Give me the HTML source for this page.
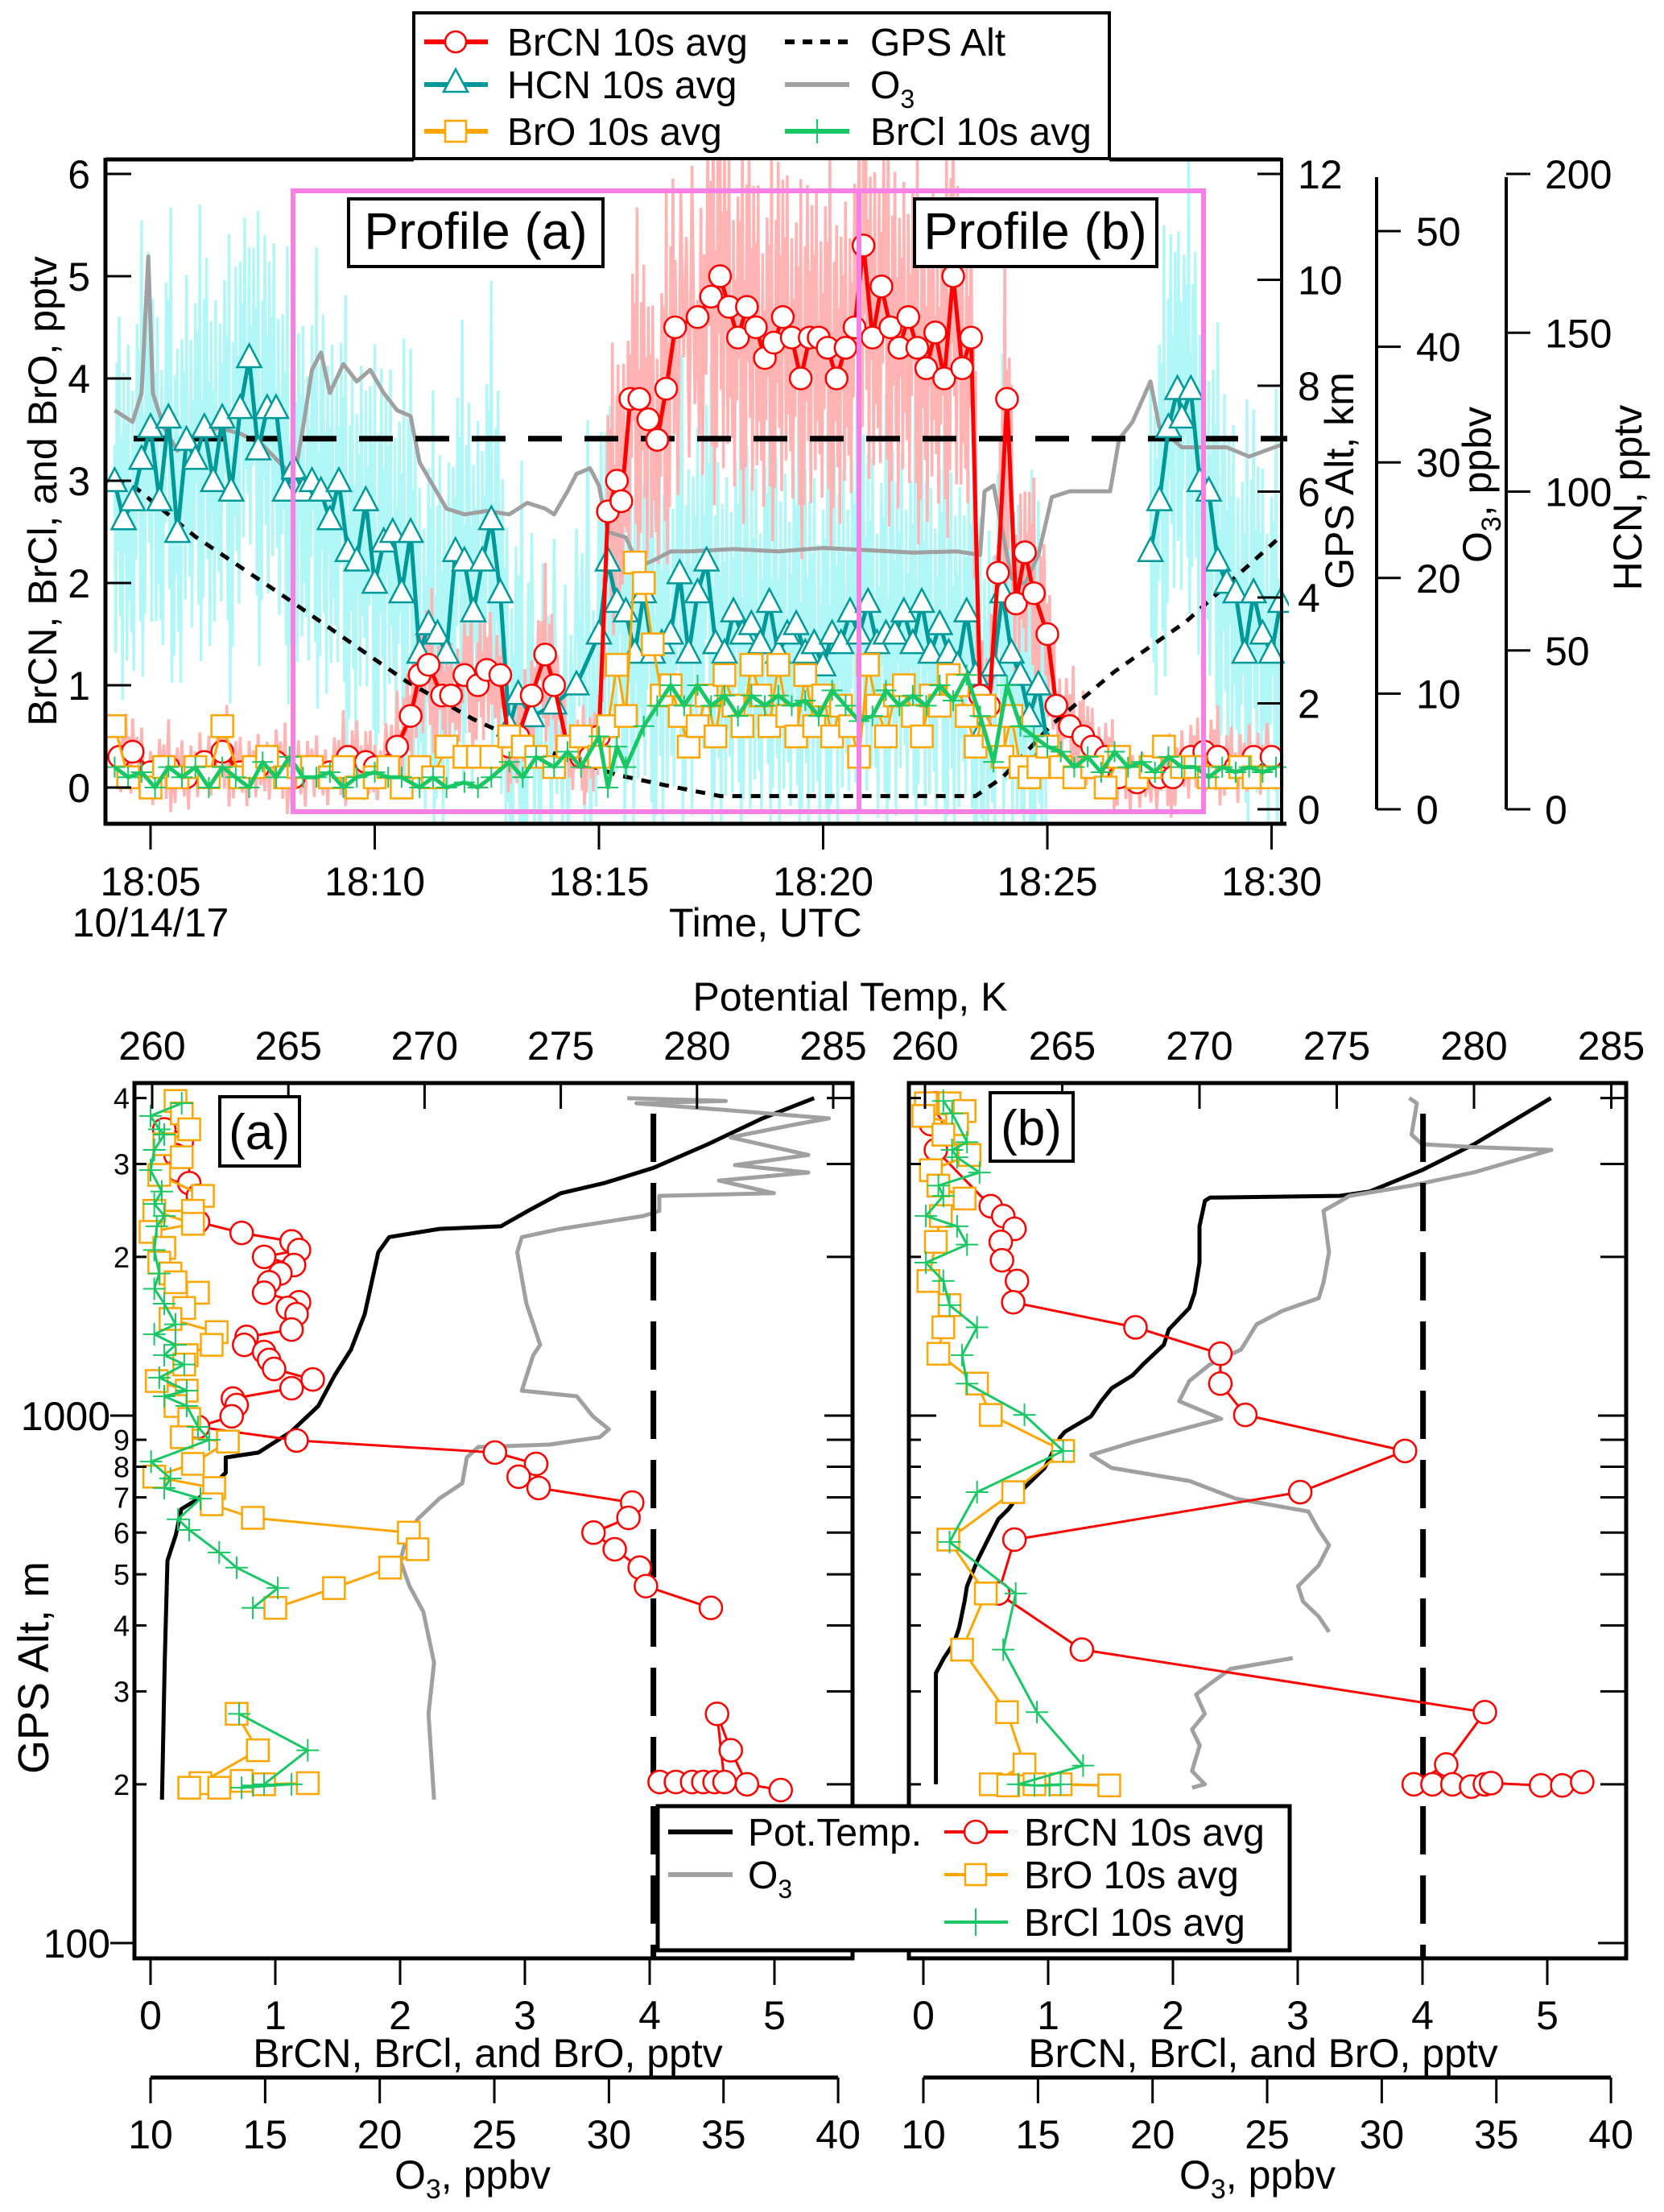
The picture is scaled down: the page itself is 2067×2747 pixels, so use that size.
<!DOCTYPE html>
<html><head><meta charset="utf-8"><style>
html,body{margin:0;padding:0;background:#fff;}
svg{display:block;font-family:"Liberation Sans",Arial,sans-serif;}
</style></head><body>
<svg id="fig" xmlns="http://www.w3.org/2000/svg" width="2067" height="2747" viewBox="0 0 2067 2747">
<defs>
<clipPath id="clipTop"><rect x="131" y="198" width="1470" height="825"/></clipPath>
<clipPath id="clipA"><rect x="167" y="1345" width="892" height="1087"/></clipPath>
<clipPath id="clipB"><rect x="1129" y="1345" width="891" height="1087"/></clipPath>
</defs>
<rect width="2067" height="2747" fill="#fff"/>

<g id="topData" clip-path="url(#clipTop)"></g>
<g id="topAxes" stroke="#000" fill="none">
  <line x1="131" y1="198" x2="514" y2="198" stroke-width="5"/>
  <line x1="1378" y1="198" x2="1592" y2="198" stroke-width="5"/>
  <line x1="131" y1="196" x2="131" y2="1025" stroke-width="5"/>
  <line x1="129" y1="1023" x2="1598" y2="1023" stroke-width="5"/>
  <line x1="1592" y1="196" x2="1592" y2="1025" stroke-width="4"/>
  <line x1="1710" y1="220" x2="1710" y2="1005" stroke-width="4"/>
  <line x1="1871" y1="220" x2="1871" y2="1005" stroke-width="4"/>
</g>
<g id="topText" font-size="50" fill="#000">
  <text x="70" y="610" transform="rotate(-90 70 610)" text-anchor="middle">BrCN, BrCl, and BrO, pptv</text>
  <text x="1681" y="597" transform="rotate(-90 1681 597)" text-anchor="middle">GPS Alt, km</text>
  <text x="1852" y="602" transform="rotate(-90 1852 602)" text-anchor="middle">O<tspan font-size="34" dy="12">3</tspan><tspan dy="-12">, ppbv</tspan></text>
  <text x="2039" y="618" transform="rotate(-90 2039 618)" text-anchor="middle">HCN, pptv</text>
  <text x="187" y="1163" text-anchor="middle">10/14/17</text>
  <text x="831" y="1163">Time, UTC</text>
</g>
<g fill="none" stroke="#f77fe6" stroke-width="6">
  <rect x="364" y="237" width="1131" height="771"/>
  <line x1="1067" y1="237" x2="1067" y2="1008"/>
</g>
<g>
  <rect x="433" y="247" width="316" height="84" fill="#fff" stroke="#000" stroke-width="4"/>
  <text x="591" y="309" font-size="64" text-anchor="middle">Profile (a)</text>
</g>
<g>
  <rect x="1136" y="247" width="301" height="84" fill="#fff" stroke="#000" stroke-width="4"/>
  <text x="1286" y="309" font-size="64" text-anchor="middle">Profile (b)</text>
</g>

<g font-size="48">
  <rect x="514" y="16" width="864" height="181" fill="#fff" stroke="#000" stroke-width="4"/>
  <g>
    <line x1="527" y1="52" x2="606" y2="52" stroke="#ff0000" stroke-width="6"/>
    <circle cx="566" cy="52" r="13" fill="#fff" stroke="#ff0000" stroke-width="2.5"/>
    <text x="630" y="69">BrCN 10s avg</text></g>
  <g>
    <line x1="527" y1="105" x2="606" y2="105" stroke="#009999" stroke-width="6"/>
    <path d="M566 86 L581 114 L551 114 Z" fill="#fff" stroke="#009999" stroke-width="2.5"/>
    <text x="630" y="122">HCN 10s avg</text></g>
  <g>
    <line x1="527" y1="163" x2="606" y2="163" stroke="#ffa500" stroke-width="6"/>
    <rect x="553" y="150" width="26" height="26" fill="#fff" stroke="#ffa500" stroke-width="2.5"/>
    <text x="630" y="180">BrO 10s avg</text></g>
  <g>
    <line x1="975" y1="52" x2="1055" y2="52" stroke="#000" stroke-width="6" stroke-dasharray="12 10"/>
    <text x="1081" y="69">GPS Alt</text></g>
  <g>
    <line x1="975" y1="105" x2="1055" y2="105" stroke="#a0a0a0" stroke-width="6"/>
    <text x="1081" y="122">O<tspan font-size="32" dy="12">3</tspan></text></g>
  <g>
    <line x1="975" y1="163" x2="1055" y2="163" stroke="#19c865" stroke-width="6"/>
    <line x1="1015" y1="148" x2="1015" y2="178" stroke="#19c865" stroke-width="2"/>
    <text x="1081" y="180">BrCl 10s avg</text></g>
</g>

<text x="1056" y="1255" font-size="50" text-anchor="middle">Potential Temp, K</text>
<g id="panelA" clip-path="url(#clipA)"></g>
<g id="panelB" clip-path="url(#clipB)"></g>
<g id="botAxes"></g>
<text x="60" y="2071" transform="rotate(-90 60 2071)" font-size="54" text-anchor="middle">GPS Alt, m</text>
<g>
  <rect x="273" y="1362" width="99" height="86" fill="#fff" stroke="#000" stroke-width="4"/>
  <text x="322" y="1427" font-size="62" text-anchor="middle">(a)</text>
</g>
<g>
  <rect x="1230" y="1357" width="103" height="85" fill="#fff" stroke="#000" stroke-width="4"/>
  <text x="1281" y="1422" font-size="62" text-anchor="middle">(b)</text>
</g>
<g font-size="50" text-anchor="middle">
  <text x="606" y="2567">BrCN, BrCl, and BrO, pptv</text>
  <text x="1569" y="2567">BrCN, BrCl, and BrO, pptv</text>
  <text x="587" y="2718">O<tspan font-size="34" dy="12">3</tspan><tspan dy="-12">, ppbv</tspan></text>
  <text x="1562" y="2718">O<tspan font-size="34" dy="12">3</tspan><tspan dy="-12">, ppbv</tspan></text>
</g>
<g id="botLegend" font-size="48">
  <rect x="817" y="2243" width="785" height="179" fill="#fff" stroke="#000" stroke-width="5"/>
  <g>
    <line x1="830" y1="2275" x2="910" y2="2275" stroke="#000" stroke-width="6"/>
    <text x="929" y="2292">Pot.Temp.</text></g>
  <g>
    <line x1="830" y1="2328" x2="910" y2="2328" stroke="#a0a0a0" stroke-width="6"/>
    <text x="929" y="2345">O<tspan font-size="32" dy="12">3</tspan></text></g>
  <g>
    <line x1="1173" y1="2275" x2="1252" y2="2275" stroke="#ff0000" stroke-width="4"/>
    <circle cx="1212" cy="2275" r="14" fill="#fff" stroke="#ff0000" stroke-width="2.5"/>
    <text x="1272" y="2292">BrCN 10s avg</text></g>
  <g>
    <line x1="1173" y1="2328" x2="1252" y2="2328" stroke="#ffa500" stroke-width="4"/>
    <rect x="1199" y="2315" width="26" height="26" fill="#fff" stroke="#ffa500" stroke-width="2.5"/>
    <text x="1272" y="2345">BrO 10s avg</text></g>
  <g>
    <line x1="1173" y1="2387" x2="1252" y2="2387" stroke="#19c865" stroke-width="4"/>
    <line x1="1212" y1="2370" x2="1212" y2="2404" stroke="#19c865" stroke-width="2"/>
    <text x="1272" y="2404">BrCl 10s avg</text></g>
</g>
</svg>
<script>
// ===== TOP CHART DATA (time = minutes after 18:00 UTC) =====
const timeTickValues = [5,10,15,20,25,30];
const timeTickLabels = ["18:05","18:10","18:15","18:20","18:25","18:30"];
const leftTicks = [0,1,2,3,4,5,6];
const gpsTicks = [0,2,4,6,8,10,12];
const o3Ticks = [0,10,20,30,40,50];
const hcnTicks = [0,50,100,150,200];

const brcnT = [4.3,4.6,5,5.4,5.8,6.2,6.6,7.0,7.4,7.8,8.2,8.6,9.0,9.4,9.8,10,10.5,10.8,11,11.2,11.5,11.7,12,12.3,12.5,12.8,13,13.2,13.5,13.8,14,14.3,14.6,14.8,15,15.2,15.4,15.5,15.7,15.9,16.1,16.3,16.5,16.7,17.2,17.5,17.7,17.9,18.1,18.3,18.5,18.7,18.9,19.1,19.3,19.5,19.7,19.9,20.1,20.3,20.5,20.7,20.9,21.1,21.3,21.5,21.7,21.9,22.1,22.3,22.5,22.7,22.9,23.1,23.3,23.5,23.7,23.9,24.1,24.3,24.5,24.7,25,25.2,25.5,25.8,26,26.3,26.6,27,27.5,27.8,28.2,28.5,28.8,29.2,29.6,30];
const brcnV = [0.3,0.35,0.15,0.2,0.1,0.25,0.35,0.15,0.2,0.25,0.1,0.2,0.15,0.3,0.25,0.2,0.4,0.7,1.1,1.2,0.9,0.9,1.1,1.0,1.15,1.1,0.4,0.5,0.9,1.3,1.0,0.4,0.3,0.3,0.5,2.7,3.0,2.8,3.8,3.8,3.6,3.4,3.9,4.5,4.6,4.8,5.0,4.7,4.4,4.7,4.5,4.2,4.35,4.6,4.4,4.0,4.4,4.4,4.3,4.0,4.3,4.5,5.3,4.4,4.9,4.5,4.3,4.6,4.3,4.1,4.45,4.0,5.0,4.1,4.4,0.9,0.8,2.1,3.8,1.8,2.3,1.9,1.5,0.8,0.6,0.5,0.4,0.3,0.1,0.05,0.1,0.1,0.3,0.35,0.3,0.2,0.3,0.3];

const hcnT = [4.2,4.4,4.6,4.8,5.0,5.2,5.4,5.6,5.8,6.0,6.2,6.4,6.6,6.8,7.0,7.2,7.4,7.6,7.8,8.0,8.2,8.4,8.6,8.8,9.0,9.2,9.4,9.6,9.8,10,10.2,10.4,10.6,10.8,11,11.2,11.4,11.6,11.8,12,12.2,12.4,12.6,12.8,13.0,13.2,13.5,14,14.5,15,15.2,15.4,15.6,15.8,16,16.2,16.4,16.6,16.8,17,17.2,17.4,17.6,17.8,18,18.2,18.4,18.6,18.8,19,19.2,19.4,19.6,19.8,20,20.2,20.4,20.6,20.8,21,21.2,21.4,21.6,21.8,22,22.2,22.4,22.6,22.8,23,23.2,23.4,23.6,23.8,24,24.2,24.4,24.6,24.8,25,26,27.3,27.5,27.7,27.9,28.0,28.2,28.4,28.6,28.8,29,29.2,29.4,29.6,29.8,30,30.2];
const hcnV = [103,91,97,110,120,97,123,87,116,110,120,103,123,100,126,142,113,126,126,100,107,100,103,100,91,103,81,78,97,71,84,87,68,87,49,58,55,49,81,78,62,78,91,68,26,36,29,33,39,55,78,65,62,49,68,49,52,55,74,49,68,78,52,49,62,55,58,52,65,49,55,58,49,52,45,55,52,62,55,65,52,55,55,62,52,65,49,58,49,45,62,42,26,45,68,49,42,29,39,20,null,81,97,120,132,123,132,103,100,78,71,68,49,68,55,49,65];

const broT = [4.2,4.5,5,5.3,5.6,6,6.3,6.6,7,7.3,7.6,8,8.3,8.6,9,9.3,9.6,10,10.3,10.6,11,11.3,11.6,12,12.3,12.6,13,13.3,13.6,14,14.3,14.6,15,15.2,15.4,15.6,15.8,16.0,16.2,16.4,16.6,16.8,17,17.2,17.4,17.6,17.8,18,18.2,18.4,18.6,18.8,19,19.2,19.4,19.6,19.8,20,20.2,20.4,20.6,20.8,21,21.2,21.4,21.6,21.8,22,22.2,22.4,22.6,22.8,23,23.2,23.4,23.6,23.8,24.0,24.2,24.4,24.6,24.8,25,25.3,25.6,26,26.3,26.6,27,27.3,27.6,28,28.3,28.6,29,29.3,29.6,30];
const broV = [0.6,0.1,0.0,0.2,0.1,0.2,0.1,0.6,0.1,0.2,0.3,0.1,0.2,0.2,0.1,0.2,0.0,0.1,0.2,0.0,0.2,0.1,0.4,0.3,0.3,0.3,0.5,0.4,0.3,0.2,0.4,0.5,0.3,0.6,1.2,0.7,2.2,2.0,1.4,0.9,1.0,0.7,0.4,0.6,0.9,0.5,1.1,0.8,0.6,1.2,0.9,0.6,1.2,0.7,0.5,1.1,0.6,0.9,0.5,0.8,0.6,0.3,1.2,0.8,0.5,0.9,1.0,0.7,0.5,0.9,0.8,1.1,1.0,0.7,0.4,0.8,0.5,0.3,0.7,0.2,0.1,0.2,0.4,0.2,0.1,0.2,0.0,0.3,0.1,0.2,0.4,0.2,0.2,0.1,0.1,0.2,0.1,0.1];

const brclT = [4.2,4.5,4.8,5.1,5.4,5.7,6,6.3,6.6,6.9,7.2,7.5,7.8,8.1,8.4,8.7,9,9.3,9.6,10,10.3,10.6,11,11.3,11.6,12,12.3,12.6,13,13.3,13.6,14,14.3,14.6,15,15.2,15.4,15.6,16,16.3,16.6,16.9,17.2,17.5,17.8,18.1,18.4,18.7,19,19.3,19.6,19.9,20.2,20.5,20.8,21.1,21.4,21.7,22,22.3,22.6,22.9,23.2,23.5,23.8,24.1,24.4,24.7,25,25.3,25.6,25.9,26.2,26.5,26.8,27.1,27.4,27.7,28,28.3,28.6,28.9,29.2,29.5,29.8,30.1];
const brclV = [0.2,0.1,0.15,0.0,0.2,0.1,0.2,0.0,0.2,0.1,0.0,0.25,0.1,0.3,0.1,0.1,0.15,0.0,0.1,0.15,0.1,0.1,0.0,0.1,0.0,0.05,0.0,0.1,0.25,0.1,0.3,0.2,0.35,0.2,0.5,0.0,0.4,0.2,0.6,0.8,1.0,0.8,1.0,0.8,0.9,0.7,0.9,0.8,0.9,0.8,0.85,0.7,0.95,0.8,0.65,0.7,0.95,0.8,0.9,0.8,1.0,0.85,1.1,0.7,0.25,1.0,0.6,0.5,0.4,0.35,0.2,0.3,0.15,0.35,0.2,0.25,0.15,0.3,0.2,0.2,0.1,0.2,0.15,0.2,0.15,0.2];

const o3T = [4.2,4.6,4.8,4.95,5.05,5.3,5.6,6,6.5,7,7.5,8,8.2,8.4,8.6,8.8,9,9.3,9.6,9.9,10.2,10.5,10.8,11,11.3,11.6,12,12.5,13,13.4,13.8,14,14.3,14.5,14.8,15,15.2,15.6,15.9,16.2,16.6,17,18,19,20,21,22,23,23.5,23.6,23.8,24.2,24.5,24.8,25.1,25.5,26.4,26.6,26.9,27.3,27.5,28,29,29.5,30.2];
const o3V = [34.5,33.5,36,47.8,36,33,31,32,33,32.5,31.5,29.5,28.5,33,38,39.5,36,38.5,37,38,36,34.5,34,30,28,26,25.5,25.8,25.5,26.5,26,25.5,27.5,29,29.5,28,24,23.5,21,21.5,22.3,22.3,22.5,22.3,22.6,22.4,22.2,22.3,22,27.5,28,20,19.5,22,27,27.5,27.5,32,33.5,37,33,31.3,31.3,30.5,31.5];

const gpsT = [4.2,4.7,6.0,8.1,10.7,12.2,13.5,15.4,16.5,17.7,23.4,24,25.1,26.5,28.1,30.2];
const gpsKm = [6.2,6.05,5.15,3.95,2.42,1.7,1.2,0.65,0.45,0.25,0.25,0.6,1.6,2.6,3.55,5.15];
const altThresholdKm = [7.0];

// ===== PROFILE (a) DATA =====
const aPotAlt = [187,340,531,594,665,696,779,833,851,932,1043,1192,1334,1557,2040,2180,2260,2285,2445,2640,2760,2950,3270,3660,4000];
const aPotK = [260.36,260.46,260.56,260.87,261.07,261.7,262.7,262.7,263.9,265.1,266.1,266.7,267.3,267.8,268.3,268.7,270.55,272.8,273.8,275.0,276.6,278.4,280.4,282.4,284.3];
const aO3Alt = [187,272,340,425,475,531,594,636,696,744,833,872,881,910,942,997,1088,1115,1302,1362,1630,2040,2180,2260,2390,2445,2610,2640,2790,2890,2985,3120,3370,3570,3660,3820,3910,3950,4000];
const aO3V = [22.37,22.13,22.37,21.9,21.3,20.9,21.2,21.65,22.6,23.6,23.8,24.3,27.4,29.6,30.0,29.3,28.6,26.2,26.7,27.0,26.4,26.0,26.2,27.9,31.5,32.2,32.2,37.2,34.8,38.7,35.5,38.7,35.3,38.2,39.6,34.3,31.2,35.1,30.8];
const aBrcnAlt = [3490,3300,3120,2920,2760,2610,2330,2220,2140,2060,2000,1930,1860,1790,1710,1640,1600,1557,1456,1410,1362,1320,1275,1226,1171,1127,1077,1047,997,952,897,851,810,766,729,684,640,600,558,515,475,432,null,202,202,202,202,202,202,272,232,200,195];
const aBrcnV = [0.11,0.25,0.20,0.22,0.31,0.38,0.38,0.73,1.13,1.19,0.91,1.15,1.04,0.95,0.91,1.19,1.10,1.17,1.13,0.77,0.75,0.91,0.95,0.99,1.30,1.13,0.66,0.69,0.65,0.38,1.17,2.76,3.09,2.95,3.11,3.86,3.83,3.55,3.72,3.92,3.97,4.49,null,4.08,4.21,4.34,4.43,4.52,4.60,4.54,4.65,4.78,5.05];
const aBroAlt = [3950,3740,3490,3270,3090,2860,2610,2445,2445,2310,2230,2080,1950,1860,1790,1710,1600,1525,1440,1362,1302,1250,1163,1115,1043,986,910,893,810,766,729,679,640,600,558,515,471,432,null,272,232,201,197,203,200,201,197];
const aBroV = [0.20,0.25,0.31,0.11,0.25,0.07,0.42,0.34,0.03,0.34,0.0,0.11,0.07,0.16,0.20,0.38,0.27,0.16,0.53,0.49,0.29,0.27,0.05,0.29,0.20,0.31,0.25,0.62,0.34,0.03,0.51,0.49,0.82,2.07,2.14,1.92,1.47,1.0,null,0.69,0.86,0.40,0.55,0.73,0.91,1.26,0.31];
const aBrclAlt = [3910,3700,3490,3410,3190,2920,2660,2520,2390,2285,2060,1860,1740,1630,1490,1427,1362,1302,1250,1180,1115,1088,1043,952,900,818,760,729,696,636,607,550,515,471,432,null,272,232,200,197,200,199];
const aBrclV = [0.25,0.0,0.07,0.11,0.03,0.0,0.09,0.03,0.11,0.05,0.03,0.07,0.03,0.11,0.20,0.03,0.20,0.11,0.27,0.07,0.29,0.11,0.29,0.38,0.47,0.004,0.16,0.11,0.40,0.22,0.31,0.55,0.69,1.02,0.82,null,0.71,1.26,0.91,0.73,1.13,0.82];

// ===== PROFILE (b) DATA =====
const bPotAlt = [200,325,347,371,397,444,475,531,582,636,665,729,796,910,932,997,1065,1127,1192,1250,1362,1456,1600,1710,1950,2285,2555,2590,2610,2660,2920,3270,4000];
const bPotK = [260.40,260.40,260.69,261.06,261.25,261.44,261.53,261.91,262.29,262.67,263.04,263.61,264.36,264.93,265.1,266.05,266.42,266.8,267.56,267.94,268.7,268.88,269.63,269.82,270.0,270.0,270.2,270.38,275.1,276.2,278.1,280.0,282.8];
const bO3Alt = [197,200,212,237,254,272,296,310,331,347,null,389,416,444,475,520,568,607,658,696,752,796,842,890,986,1065,1163,1250,1334,1490,1580,1670,1790,2040,2445,2610,2730,2890,3190,3230,3270,3410,3910,4000];
const bO3V = [21.72,22.28,21.72,22.06,21.72,22.28,21.9,22.5,23.4,26.12,null,27.7,27.25,26.57,26.35,27.25,27.7,27.25,26.8,23.63,21.6,18.2,17.32,19.13,23.0,21.16,21.6,22.5,23.86,24.54,25.67,27.25,27.46,27.7,27.46,28.6,31.3,34.0,37.4,34.0,31.76,31.3,31.53,31.2];
const bBrcnAlt = [3910,3570,3190,2495,2390,2260,2135,1970,1800,1640,1470,1310,1150,1003,857,716,582,460,360,274,218,200,200,200,198,200,201,199,199,202];
const bBrcnV = [0.10,0.06,0.10,0.54,0.64,0.73,0.62,0.63,0.75,0.72,1.70,2.38,2.38,2.58,3.86,3.02,0.73,0.60,1.27,4.50,4.19,3.93,4.08,4.24,4.39,4.50,4.55,4.95,5.12,5.28];
const bBroAlt = [3910,3910,3780,3700,3570,3410,3120,2920,2730,2580,2390,2135,1800,1620,1470,1310,1150,1003,857,716,582,460,360,274,218,200,199,200,199,200];
const bBroV = [0.02,0.21,0.33,0.0,0.27,0.16,0.37,0.06,0.12,0.33,0.14,0.10,0.04,0.21,0.16,0.12,0.43,0.54,1.12,0.72,0.20,0.50,0.31,0.67,0.81,0.54,0.68,0.89,1.49,1.10];
const bBrclAlt = [3950,3740,3300,3190,3090,2890,2730,2610,2390,2285,2110,1950,1800,1620,1470,1302,1150,1003,857,716,576,460,360,274,217,200,199,199,200];
const bBrclV = [0.16,0.23,0.35,0.23,0.27,0.45,0.12,0.16,0.02,0.27,0.35,0.02,0.16,0.21,0.43,0.31,0.35,0.81,1.12,0.43,0.21,0.74,0.64,0.91,1.28,0.76,0.89,1.01,1.10];

const pptvTicks = [0,1,2,3,4,5];
const potTicks = [260,265,270,275,280,285];
const o3ProfTicks = [10,15,20,25,30,35,40];
const altMajor = [100,1000];
const altMinor = [200,300,400,500,600,700,800,900,2000,3000,4000];
const dashedLineValue = [4.03];

// ===== scales =====
const xT = t => 187 + (t - 5) * 55.7;
const yL = v => 978 - v * 127;
const yGPS = k => 1005 - k * 65.75;
const yO3 = p => 1005 - p * 14.36;
const yHCN = p => 1005 - p * 3.945;
const yAlt = m => 1758 - 655 * Math.log10(m / 1000);
const xA = v => 187 + v * 155, xB = v => 1147 + v * 155;
const xAK = k => 189 + (k - 260) * 33.84, xBK = k => 1149 + (k - 260) * 34.1;
const xAO = p => 187 + (p - 10) * 28.47, xBO = p => 1147 + (p - 10) * 28.47;

const NS = "http://www.w3.org/2000/svg";
function mk(tag, attrs, parent) {
  const e = document.createElementNS(NS, tag);
  for (const k in attrs) e.setAttribute(k, attrs[k]);
  parent.appendChild(e);
  return e;
}
function segs(xs, ys, fx, fy) {
  const out = []; let cur = [];
  for (let i = 0; i < xs.length; i++) {
    if (xs[i] === null || ys[i] === null) { if (cur.length) out.push(cur); cur = []; continue; }
    cur.push(fx(xs[i]).toFixed(1) + "," + fy(ys[i]).toFixed(1));
  }
  if (cur.length) out.push(cur);
  return out;
}
function drawLine(parent, xs, ys, fx, fy, style, name) {
  for (const s of segs(xs, ys, fx, fy)) {
    const p = mk("polyline", Object.assign({points: s.join(" "), fill: "none", "stroke-linejoin": "round"}, style), parent);
    
    
  }
}
function markers(parent, kind, xs, ys, fx, fy, color, sz, name) {
  for (let i = 0; i < xs.length; i++) {
    if (xs[i] === null || ys[i] === null) continue;
    const x = fx(xs[i]), y = fy(ys[i]);
    let m;
    if (kind === "circle") m = mk("circle", {cx: x, cy: y, r: sz, fill: "#fff", stroke: color, "stroke-width": 2.5}, parent);
    else if (kind === "tri") m = mk("path", {d: `M${x} ${y - sz * 1.15} L${x + sz} ${y + sz * 0.75} L${x - sz} ${y + sz * 0.75} Z`, fill: "#fff", stroke: color, "stroke-width": 2.5}, parent);
    else if (kind === "square") m = mk("rect", {x: x - sz, y: y - sz, width: 2 * sz, height: 2 * sz, fill: "#fff", stroke: color, "stroke-width": 2.5}, parent);
    else m = mk("path", {d: `M${x - sz} ${y} H${x + sz} M${x} ${y - sz} V${y + sz}`, stroke: color, "stroke-width": 2, fill: "none"}, parent);
    
    
  }
}
const jitter = [0.2,-0.9,0.7,-0.3,1.0,-0.6,0.4,-1.0,0.8,-0.2,0.5,-0.8,0.9,-0.5,0.1,-0.7,0.6,-0.95,0.3,-0.4,0.85,-0.15,0.65,-0.85,1.3,-1.2];
function raw(parent, ts, vs, fy, ampFn, color, name) {
  let pts = [], j = 0;
  const flush = () => {
    if (pts.length) {
      const p = mk("polyline", {points: pts.join(" "), fill: "none", stroke: color, "stroke-width": 3.5}, parent);
      
      
    }
    pts = [];
  };
  for (let i = 0; i < ts.length - 1; i++) {
    if (vs[i] === null || vs[i + 1] === null) { flush(); continue; }
    for (let k = 0; k < 8; k++) {
      const f = k / 8, t = ts[i] + (ts[i + 1] - ts[i]) * f, v = vs[i] + (vs[i + 1] - vs[i]) * f;
      const val = v + jitter[j % jitter.length] * ampFn(v); j++;
      pts.push(xT(t).toFixed(1) + "," + fy(val).toFixed(1));
    }
  }
  flush();
}

// ---- draw top chart ----
const topG = document.getElementById("topData");
raw(topG, hcnT, hcnV, yHCN, v => 58, "#b2f7f7", "hcn-1s-trace");
raw(topG, brcnT, brcnV, yL, v => 0.3 + 0.3 * v, "#ffb3b3", "brcn-1s-trace");
drawLine(topG, o3T, o3V, xT, yO3, {stroke: "#a0a0a0", "stroke-width": 5}, "o3-line");
drawLine(topG, gpsT, gpsKm, xT, yGPS, {stroke: "#000", "stroke-width": 5, "stroke-dasharray": "12 11"}, "gps-alt-line");
const thr = mk("line", {x1: 166, x2: 1599, y1: yGPS(altThresholdKm[0]), y2: yGPS(altThresholdKm[0]), stroke: "#000", "stroke-width": 7, "stroke-dasharray": "42 28"}, topG);


drawLine(topG, hcnT, hcnV, xT, yHCN, {stroke: "#009999", "stroke-width": 5}, "hcn-line");
markers(topG, "tri", hcnT, hcnV, xT, yHCN, "#009999", 15, "hcn-marker");
drawLine(topG, brcnT, brcnV, xT, yL, {stroke: "#ff0000", "stroke-width": 5}, "brcn-line");
markers(topG, "circle", brcnT, brcnV, xT, yL, "#ff0000", 13.5, "brcn-marker");
drawLine(topG, broT, broV, xT, yL, {stroke: "#ffa500", "stroke-width": 3}, "bro-line");
markers(topG, "square", broT, broV, xT, yL, "#ffa500", 13.5, "bro-marker");
drawLine(topG, brclT, brclV, xT, yL, {stroke: "#19c865", "stroke-width": 5}, "brcl-line");
markers(topG, "plus", brclT, brclV, xT, yL, "#19c865", 13, "brcl-marker");

// ---- top axes ticks/labels ----
const ta = document.getElementById("topAxes");
const tt = document.getElementById("topText");
for (let i = 0; i < timeTickValues.length; i++) {
  const x = xT(timeTickValues[i]);
  const tk = mk("line", {x1: x, x2: x, y1: 1023, y2: 1055, "stroke-width": 3}, ta);
  
  
  const lb = mk("text", {x: x, y: 1112, "text-anchor": "middle"}, tt);
  lb.textContent = timeTickLabels[i];
  
  
}
for (const v of leftTicks) {
  const y = yL(v);
  const tk = mk("line", {x1: 131, x2: 163, y1: y, y2: y, "stroke-width": 3}, ta);
  
  
  const lb = mk("text", {x: 112, y: y + 18, "text-anchor": "end"}, tt);
  lb.textContent = v;
  
  
}
for (const v of gpsTicks) {
  const y = yGPS(v);
  const tk = mk("line", {x1: 1562, x2: 1592, y1: y, y2: y, "stroke-width": 3}, ta);
  
  
  const lb = mk("text", {x: 1612, y: y + 18}, tt);
  lb.textContent = v;
  
  
}
for (const v of o3Ticks) {
  const y = yO3(v);
  const tk = mk("line", {x1: 1710, x2: 1740, y1: y, y2: y, "stroke-width": 3}, ta);
  
  
  const lb = mk("text", {x: 1759, y: y + 18}, tt);
  lb.textContent = v;
  
  
}
for (const v of hcnTicks) {
  const y = yHCN(v);
  const tk = mk("line", {x1: 1871, x2: 1901, y1: y, y2: y, "stroke-width": 3}, ta);
  
  
  const lb = mk("text", {x: 1919, y: y + 18}, tt);
  lb.textContent = v;
  
  
}

// ---- profile panels ----
function panel(g, xv, xk, xo, pot, o3, brcn, bro, brcl, dashX) {
  drawLine(g, pot[1], pot[0], xk, yAlt, {stroke: "#000", "stroke-width": 5}, "potential-temp-line");
  drawLine(g, o3[1], o3[0], xo, yAlt, {stroke: "#a0a0a0", "stroke-width": 5}, "o3-profile-line");
  const d = mk("line", {x1: dashX, x2: dashX, y1: 1383, y2: 2432, stroke: "#000", "stroke-width": 7, "stroke-dasharray": "60 26"}, g);
  
  
  drawLine(g, brcn[1], brcn[0], xv, yAlt, {stroke: "#ff0000", "stroke-width": 3}, "brcn-profile-line");
  markers(g, "circle", brcn[1], brcn[0], xv, yAlt, "#ff0000", 14, "brcn-profile-marker");
  drawLine(g, bro[1], bro[0], xv, yAlt, {stroke: "#ffa500", "stroke-width": 3}, "bro-profile-line");
  markers(g, "square", bro[1], bro[0], xv, yAlt, "#ffa500", 13.5, "bro-profile-marker");
  drawLine(g, brcl[1], brcl[0], xv, yAlt, {stroke: "#19c865", "stroke-width": 3}, "brcl-profile-line");
  markers(g, "plus", brcl[1], brcl[0], xv, yAlt, "#19c865", 14, "brcl-profile-marker");
}
panel(document.getElementById("panelA"), xA, xAK, xAO, [aPotAlt, aPotK], [aO3Alt, aO3V], [aBrcnAlt, aBrcnV], [aBroAlt, aBroV], [aBrclAlt, aBrclV], xA(dashedLineValue[0]));
panel(document.getElementById("panelB"), xB, xBK, xBO, [bPotAlt, bPotK], [bO3Alt, bO3V], [bBrcnAlt, bBrcnV], [bBroAlt, bBroV], [bBrclAlt, bBrclV], xB(dashedLineValue[0]) - 4);

const ba = document.getElementById("botAxes");
function frame(L, R, xv, xk, xo, labelsLeft, tag) {
  const fr = mk("path", {d: `M${L} 1345 H${R} V2432 H${L} Z`, fill: "none", stroke: "#000", "stroke-width": 5}, ba);
  
  
  for (const v of pptvTicks) {
    const x = xv(v);
    const tk = mk("line", {x1: x, x2: x, y1: 2432, y2: 2465, stroke: "#000", "stroke-width": 3}, ba);
    
    
    const lb = mk("text", {x: x, y: 2520, "font-size": 50, "text-anchor": "middle"}, ba);
    lb.textContent = v;
    
    
  }
  const oa = mk("line", {x1: xo(10), x2: xo(40), y1: 2580, y2: 2580, stroke: "#000", "stroke-width": 5}, ba);
  
  
  for (const v of o3ProfTicks) {
    const x = xo(v);
    const tk = mk("line", {x1: x, x2: x, y1: 2580, y2: 2612, stroke: "#000", "stroke-width": 3}, ba);
    
    
    const lb = mk("text", {x: x, y: 2668, "font-size": 50, "text-anchor": "middle"}, ba);
    lb.textContent = v;
    
    
  }
  for (const v of potTicks) {
    const x = xk(v);
    const tk = mk("line", {x1: x, x2: x, y1: 1345, y2: 1377, stroke: "#000", "stroke-width": 3}, ba);
    
    
    const lb = mk("text", {x: x, y: 1316, "font-size": 50, "text-anchor": "middle"}, ba);
    lb.textContent = v;
    
    
  }
  for (const m of altMajor) {
    const y = yAlt(m);
    const tk = mk("path", {d: `M${L - (labelsLeft ? 30 : -34)} ${y} H${L} M${R - 35} ${y} H${R}`, stroke: "#000", "stroke-width": 3}, ba);
    
    
    if (labelsLeft) {
      const lb = mk("text", {x: L - 30, y: y + 18, "font-size": 50, "text-anchor": "end"}, ba);
      lb.textContent = m;
      
      
    }
  }
  for (const m of altMinor) {
    const y = yAlt(m);
    const tk = mk("path", {d: `M${L} ${y} H${L + 15} M${R - 32} ${y} H${R}`, stroke: "#000", "stroke-width": 3}, ba);
    
    
    if (labelsLeft) {
      const lb = mk("text", {x: L - 6, y: y + 13, "font-size": 36, "text-anchor": "end"}, ba);
      lb.textContent = String(m).charAt(0);
      
      
    }
  }
}
frame(167, 1059, xA, xAK, xAO, true, "a");
frame(1129, 2020, xB, xBK, xBO, false, "b");
const fig = document.getElementById("fig");
fig.appendChild(document.getElementById("botLegend"));
</script>
</body></html>
